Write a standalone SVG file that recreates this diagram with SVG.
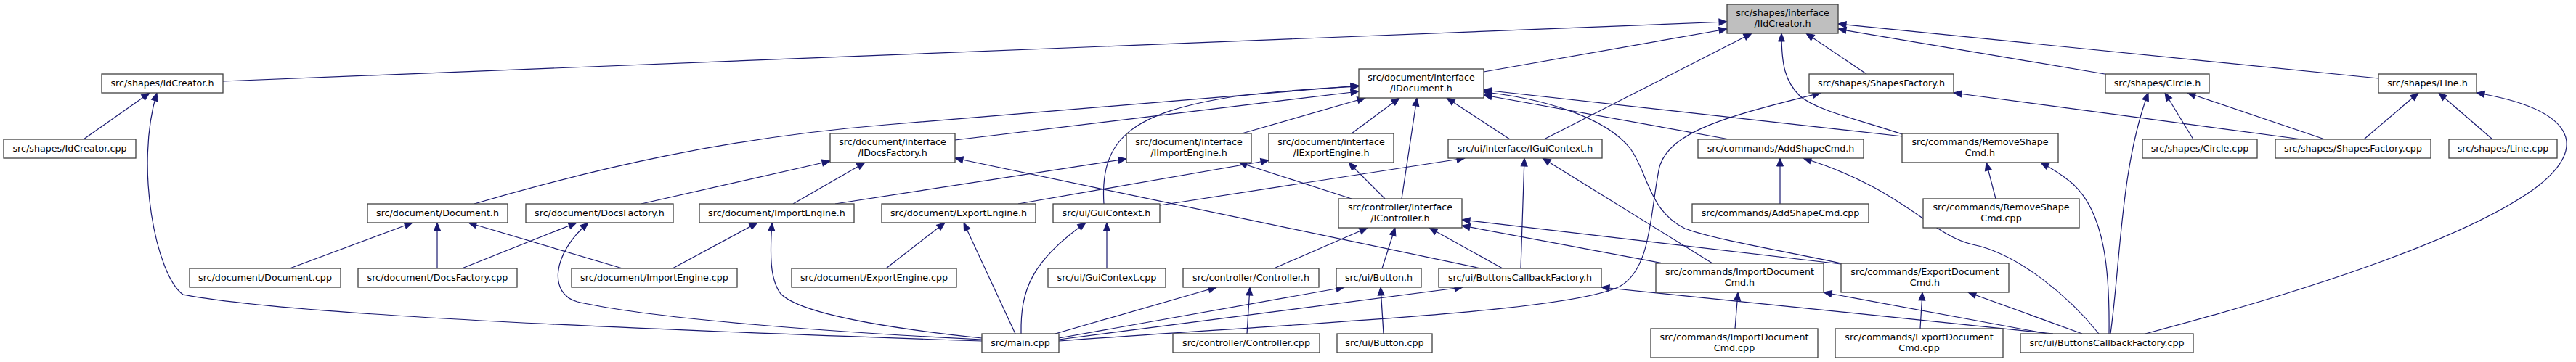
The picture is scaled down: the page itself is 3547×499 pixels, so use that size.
<svg xmlns="http://www.w3.org/2000/svg" width="3547" height="499" viewBox="0 0 3547 499">
<style>
.n rect{fill:#ffffff;stroke:#404040;stroke-width:1.3}
.n.root rect{fill:#bfbfbf}
.n text{font-family:"DejaVu Sans","Liberation Sans",sans-serif;font-size:12.7px;text-anchor:middle;fill:#000}
.e path{fill:none;stroke:#191970;stroke-width:1.2;marker-end:url(#a)}
</style>
<defs>
<marker id="a" markerUnits="userSpaceOnUse" markerWidth="12" markerHeight="10" refX="11" refY="4.5" orient="auto" viewBox="0 0 12 10" overflow="visible">
<path d="M0,0L11,4.5L0,9z" fill="#191970" stroke="#191970" stroke-width="1"/>
</marker>
</defs>
<rect width="3547" height="499" fill="#ffffff"/>
<g id="edges" class="e">
<path d="M307,112 L2378,30"/>
<path d="M2043,99 L2378,40"/>
<path d="M2126,192 L2412,46"/>
<path d="M2570,102 L2487,46"/>
<path d="M2619,185 C2560,165 2500,152 2478,132 C2458,112 2453,90 2453,46"/>
<path d="M2898,102 L2531,40"/>
<path d="M3275,108 L2531,33"/>
<path d="M115,192 L206,128"/>
<path d="M1352,470 C900,455 400,435 252,406 C215,380 185,230 216,128"/>
<path d="M653,281 C820,232 1000,190 1220,172 L1871,118"/>
<path d="M1520,281 C1514,190 1560,155 1700,133 C1780,123 1830,121 1871,119"/>
<path d="M1315,193 L1871,126"/>
<path d="M1710,184 L1880,135"/>
<path d="M1861,184 L1927,135"/>
<path d="M1930,274 L1951,135"/>
<path d="M2079,192 L1992,135"/>
<path d="M2381,192 L2043,131"/>
<path d="M2620,188 L2043,124"/>
<path d="M2535,363 C2450,345 2360,330 2320,315 C2270,290 2270,240 2245,205 C2210,160 2120,135 2043,127"/>
<path d="M2535,364 L2013,303"/>
<path d="M2290,363 L2013,311"/>
<path d="M2358,363 L2124,218"/>
<path d="M2094,370 L2099,218"/>
<path d="M1597,283 L2017,218"/>
<path d="M1754,370 L1883,314"/>
<path d="M1903,370 L1921,314"/>
<path d="M2069,370 L1968,314"/>
<path d="M2039,370 L1315,218"/>
<path d="M1907,274 L1857,224"/>
<path d="M1861,274 L1706,224"/>
<path d="M1150,281 L1551,219"/>
<path d="M1402,281 L1747,221"/>
<path d="M883,281 L1143,222"/>
<path d="M1092,281 L1191,224"/>
<path d="M399,370 L568,307"/>
<path d="M602,370 L602,307"/>
<path d="M857,370 L645,307"/>
<path d="M636,370 L794,307"/>
<path d="M1352,468 C1150,458 900,440 795,416 C755,405 760,350 810,307"/>
<path d="M926,370 L1043,307"/>
<path d="M1352,466 C1200,450 1100,430 1075,405 C1060,385 1060,350 1063,307"/>
<path d="M1220,370 L1301,307"/>
<path d="M1398,460 L1327,307"/>
<path d="M1406,460 C1405,400 1420,360 1495,307"/>
<path d="M1524,370 L1524,307"/>
<path d="M1453,460 L1675,396"/>
<path d="M1717,460 L1721,396"/>
<path d="M1458,466 L1851,396"/>
<path d="M1458,468 L2014,396"/>
<path d="M1458,470 C1800,445 2160,430 2230,395 C2275,370 2272,290 2285,230 C2300,180 2380,160 2507,128"/>
<path d="M1905,460 L1901,396"/>
<path d="M2827,460 L2205,396"/>
<path d="M2389,453 L2393,403"/>
<path d="M2819,460 L2511,403"/>
<path d="M2644,453 L2647,403"/>
<path d="M2867,460 L2710,403"/>
<path d="M2451,281 L2451,218"/>
<path d="M2890,460 C2850,410 2780,350 2716,337 C2660,325 2620,260 2483,218"/>
<path d="M2748,274 L2735,224"/>
<path d="M2904,460 C2905,380 2900,290 2850,250 C2835,238 2825,232 2810,224"/>
<path d="M2906,460 C2920,360 2920,230 2958,128"/>
<path d="M3020,192 L2981,128"/>
<path d="M3201,192 L3012,128"/>
<path d="M3169,192 L2690,128"/>
<path d="M3255,192 L3330,128"/>
<path d="M3432,192 L3358,128"/>
<path d="M2954,460 C3200,395 3400,325 3490,260 C3570,200 3540,150 3410,128"/>
</g>
<g id="n1" class="n root"><rect x="2378" y="6" width="153" height="40"/><text x="2454.5" y="22">src/shapes/interface</text><text x="2454.5" y="37">/IIdCreator.h</text></g>
<g id="n2" class="n"><rect x="140" y="102" width="167" height="26"/><text x="223.5" y="119">src/shapes/IdCreator.h</text></g>
<g id="n3" class="n"><rect x="1871" y="95" width="172" height="40"/><text x="1957" y="111">src/document/interface</text><text x="1957" y="126">/IDocument.h</text></g>
<g id="n4" class="n"><rect x="2491" y="102" width="199" height="26"/><text x="2590.5" y="119">src/shapes/ShapesFactory.h</text></g>
<g id="n5" class="n"><rect x="2899" y="102" width="143" height="26"/><text x="2970.5" y="119">src/shapes/Circle.h</text></g>
<g id="n6" class="n"><rect x="3275" y="102" width="135" height="26"/><text x="3342.5" y="119">src/shapes/Line.h</text></g>
<g id="n7" class="n"><rect x="5" y="192" width="182" height="26"/><text x="96" y="209">src/shapes/IdCreator.cpp</text></g>
<g id="n8" class="n"><rect x="1143" y="184" width="172" height="40"/><text x="1229" y="200">src/document/interface</text><text x="1229" y="215">/IDocsFactory.h</text></g>
<g id="n9" class="n"><rect x="1551" y="184" width="172" height="40"/><text x="1637" y="200">src/document/interface</text><text x="1637" y="215">/IImportEngine.h</text></g>
<g id="n10" class="n"><rect x="1747" y="184" width="172" height="40"/><text x="1833" y="200">src/document/interface</text><text x="1833" y="215">/IExportEngine.h</text></g>
<g id="n11" class="n"><rect x="1994" y="192" width="212" height="26"/><text x="2100" y="209">src/ui/interface/IGuiContext.h</text></g>
<g id="n12" class="n"><rect x="2338" y="192" width="228" height="26"/><text x="2452" y="209">src/commands/AddShapeCmd.h</text></g>
<g id="n13" class="n"><rect x="2619" y="184" width="215" height="40"/><text x="2726.5" y="200">src/commands/RemoveShape</text><text x="2726.5" y="215">Cmd.h</text></g>
<g id="n14" class="n"><rect x="2950" y="192" width="158" height="26"/><text x="3029" y="209">src/shapes/Circle.cpp</text></g>
<g id="n15" class="n"><rect x="3133" y="192" width="214" height="26"/><text x="3240" y="209">src/shapes/ShapesFactory.cpp</text></g>
<g id="n16" class="n"><rect x="3372" y="192" width="149" height="26"/><text x="3446.5" y="209">src/shapes/Line.cpp</text></g>
<g id="n17" class="n"><rect x="506" y="281" width="193" height="26"/><text x="602.5" y="298">src/document/Document.h</text></g>
<g id="n18" class="n"><rect x="724" y="281" width="203" height="26"/><text x="825.5" y="298">src/document/DocsFactory.h</text></g>
<g id="n19" class="n"><rect x="963" y="281" width="213" height="26"/><text x="1069.5" y="298">src/document/ImportEngine.h</text></g>
<g id="n20" class="n"><rect x="1214" y="281" width="212" height="26"/><text x="1320" y="298">src/document/ExportEngine.h</text></g>
<g id="n21" class="n"><rect x="1450" y="281" width="147" height="26"/><text x="1523.5" y="298">src/ui/GuiContext.h</text></g>
<g id="n22" class="n"><rect x="1843" y="274" width="170" height="40"/><text x="1928" y="290">src/controller/interface</text><text x="1928" y="305">/IController.h</text></g>
<g id="n23" class="n"><rect x="2330" y="281" width="243" height="26"/><text x="2451.5" y="298">src/commands/AddShapeCmd.cpp</text></g>
<g id="n24" class="n"><rect x="2648" y="274" width="215" height="40"/><text x="2755.5" y="290">src/commands/RemoveShape</text><text x="2755.5" y="305">Cmd.cpp</text></g>
<g id="n25" class="n"><rect x="261" y="370" width="208" height="26"/><text x="365" y="387">src/document/Document.cpp</text></g>
<g id="n26" class="n"><rect x="493" y="370" width="219" height="26"/><text x="602.5" y="387">src/document/DocsFactory.cpp</text></g>
<g id="n27" class="n"><rect x="787" y="370" width="228" height="26"/><text x="901" y="387">src/document/ImportEngine.cpp</text></g>
<g id="n28" class="n"><rect x="1090" y="370" width="227" height="26"/><text x="1203.5" y="387">src/document/ExportEngine.cpp</text></g>
<g id="n29" class="n"><rect x="1443" y="370" width="162" height="26"/><text x="1524" y="387">src/ui/GuiContext.cpp</text></g>
<g id="n30" class="n"><rect x="1629" y="370" width="187" height="26"/><text x="1722.5" y="387">src/controller/Controller.h</text></g>
<g id="n31" class="n"><rect x="1840" y="370" width="117" height="26"/><text x="1898.5" y="387">src/ui/Button.h</text></g>
<g id="n32" class="n"><rect x="1981" y="370" width="224" height="26"/><text x="2093" y="387">src/ui/ButtonsCallbackFactory.h</text></g>
<g id="n33" class="n"><rect x="2280" y="363" width="231" height="40"/><text x="2395.5" y="379">src/commands/ImportDocument</text><text x="2395.5" y="394">Cmd.h</text></g>
<g id="n34" class="n"><rect x="2535" y="363" width="231" height="40"/><text x="2650.5" y="379">src/commands/ExportDocument</text><text x="2650.5" y="394">Cmd.h</text></g>
<g id="n35" class="n"><rect x="1352" y="460" width="106" height="26"/><text x="1405" y="477">src/main.cpp</text></g>
<g id="n36" class="n"><rect x="1615" y="460" width="202" height="26"/><text x="1716" y="477">src/controller/Controller.cpp</text></g>
<g id="n37" class="n"><rect x="1841" y="460" width="131" height="26"/><text x="1906.5" y="477">src/ui/Button.cpp</text></g>
<g id="n38" class="n"><rect x="2273" y="453" width="230" height="40"/><text x="2388" y="469">src/commands/ImportDocument</text><text x="2388" y="484">Cmd.cpp</text></g>
<g id="n39" class="n"><rect x="2527" y="453" width="231" height="40"/><text x="2642.5" y="469">src/commands/ExportDocument</text><text x="2642.5" y="484">Cmd.cpp</text></g>
<g id="n40" class="n"><rect x="2782" y="460" width="238" height="26"/><text x="2901" y="477">src/ui/ButtonsCallbackFactory.cpp</text></g>
</svg>
